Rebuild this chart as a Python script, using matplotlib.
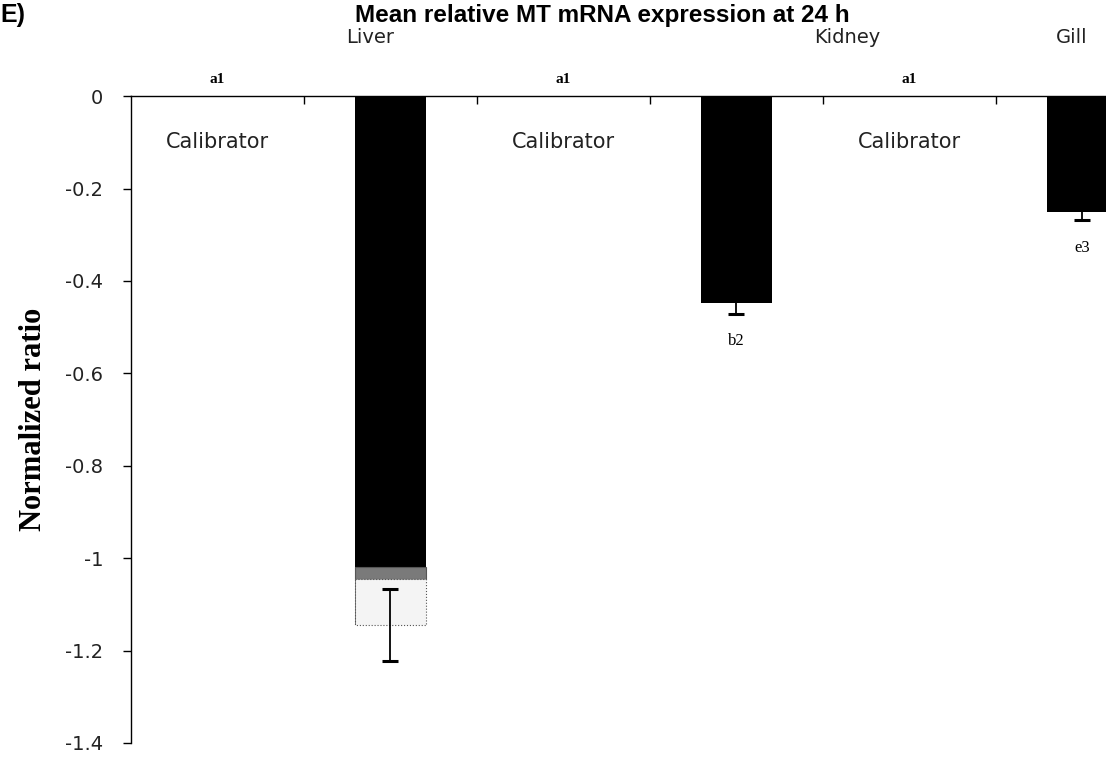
import matplotlib
matplotlib.use("Agg")
import matplotlib.pyplot as plt

# chart data
categories = ["Calibrator", "Liver", "Calibrator", "Kidney", "Calibrator", "Gill"]
means = [0, -1.145, 0, -0.448, 0, -0.25]
errors = [0, 0.078, 0, 0.023, 0, 0.018]
top_letters = ["a1", "", "a1", "", "a1", ""]
bottom_letters = ["", "", "", "b2", "", "e3"]
y_ticks = [0, -0.2, -0.4, -0.6, -0.8, -1, -1.2, -1.4]
y_tick_labels = ["0", "-0.2", "-0.4", "-0.6", "-0.8", "-1", "-1.2", "-1.4"]
# organ labels above the plot are placed by hand in the original (x in category units)
organ_label_x = {"Liver": 0.88, "Kidney": 3.64, "Gill": 4.94}
# faded lower part of the liver bar in the scan (value, colour)
liver_fade = [(-1.02, "#7a7a7a"), (-1.045, "#f4f4f4")]

sans = "DejaVu Sans"

fig = plt.figure(figsize=(11.06, 7.57), dpi=100)
ax = fig.add_axes([0.1184, 0.0185, 0.9385, 0.8545])

x = list(range(len(categories)))
ax.bar(x, means, width=0.41, color="black", zorder=2)

# liver bar: scan fades out near the bottom
li = categories.index("Liver")
for i, (start, col) in enumerate(liver_fade):
    end = liver_fade[i + 1][0] if i + 1 < len(liver_fade) else means[li]
    ax.bar(li, end - start, bottom=start, width=0.41, color=col,
           edgecolor="#555555", linewidth=0.8,
           linestyle=":" if i else "-", zorder=3)

for xi, m, e in zip(x, means, errors):
    if e > 0:
        ax.errorbar(xi, m, yerr=e, fmt="none", ecolor="black",
                    elinewidth=1.3, capsize=6, capthick=2.2, zorder=4)

ax.set_xlim(-0.5, 5.5)
ax.set_ylim(-1.4, 0)

ax.spines["right"].set_visible(False)
ax.spines["bottom"].set_visible(False)
ax.spines["top"].set_linewidth(1.0)
ax.spines["left"].set_linewidth(1.0)

ax.set_yticks(y_ticks)
ax.set_yticklabels(y_tick_labels, fontsize=14, family=sans, color="#222222")
ax.tick_params(axis="y", direction="out", length=6, width=1, pad=14)

ax.xaxis.set_ticks_position("top")
ax.set_xticks([i + 0.5 for i in range(len(categories) - 1)])
ax.set_xticklabels([])
ax.tick_params(axis="x", direction="in", length=6, width=1)

for xi, name in zip(x, categories):
    if name == "Calibrator":
        ax.text(xi, -0.1, name, ha="center", va="center", fontsize=15,
                family=sans, color="#222222")
    else:
        ax.text(organ_label_x[name], 1.09, name, ha="center", va="center",
                fontsize=14, family=sans, color="#222222",
                transform=ax.get_xaxis_transform())

for xi, lab in zip(x, top_letters):
    if lab:
        ax.text(xi, 0.035, lab, ha="center", va="center", fontsize=11,
                family="Liberation Serif", fontweight="bold")

for xi, lab, m, e in zip(x, bottom_letters, means, errors):
    if lab:
        ax.text(xi, m - e - 0.06, lab, ha="center", va="center", fontsize=12,
                family="Liberation Serif")

ax.set_ylabel("Normalized ratio", fontsize=22, family="Liberation Serif",
              fontweight="bold", labelpad=12)

fig.text(0.545, 0.98, "Mean relative MT mRNA expression at 24 h",
         ha="center", va="center", fontsize=17.5, fontweight="bold",
         family="Liberation Sans")
fig.text(0.0, 0.98, "E)", ha="left", va="center", fontsize=18,
         fontweight="bold", family="Liberation Sans")

ax.patch.set_visible(False)
fig.savefig("out.png", dpi=100)
